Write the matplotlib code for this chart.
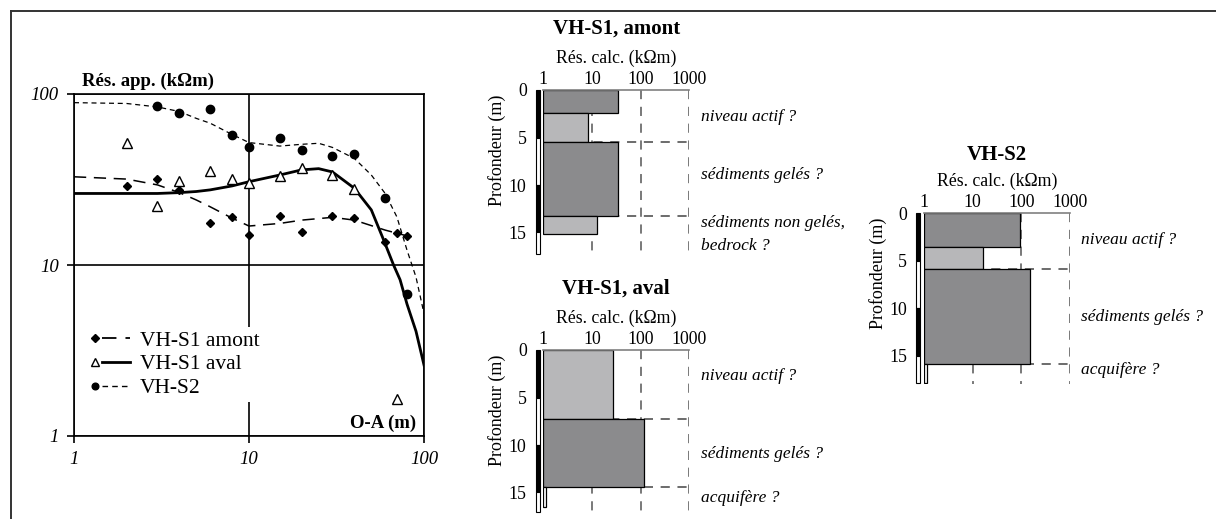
import matplotlib
matplotlib.use("Agg")
import matplotlib.pyplot as plt
from matplotlib.lines import Line2D
from matplotlib.patches import Rectangle
from matplotlib.legend_handler import HandlerBase
from matplotlib.transforms import blended_transform_factory

plt.rcParams['font.family'] = ['Liberation Serif', 'DejaVu Serif']

# ---------------- apparent resistivity sounding curves ----------------
oa_amont = [2, 3, 4, 6, 8, 10, 15, 20, 30, 40, 60, 70, 80]
rho_amont = [29, 31.7, 27.5, 17.5, 19.2, 15, 19.4, 15.6, 19.4, 18.8, 13.7, 15.3, 14.8]
oa_aval = [2, 3, 4, 6, 8, 10, 15, 20, 30, 40, 70]
rho_aval = [51.5, 22.2, 31, 35.5, 31.7, 30, 33.3, 36.7, 33.6, 27.8, 1.64]
oa_s2 = [3, 4, 6, 8, 10, 15, 20, 30, 40, 60, 80]
rho_s2 = [85, 77, 82, 57.6, 49, 55, 47, 43.5, 44.8, 24.8, 6.8]

# model response curves
fit_amont_x = [1, 2, 3, 4, 5, 6, 8, 10, 15, 20, 30, 40, 60, 80, 88]
fit_amont_y = [32.8, 31.8, 29.4, 26.5, 24, 21.9, 18.8, 16.9, 17.5, 18.3, 19, 18.3, 16, 14.8, 14.3]
fit_aval_x = [1, 2, 3, 4, 5, 6, 8, 10, 15, 20, 25, 30, 40, 50, 58, 67, 73, 80, 90, 100]
fit_aval_y = [26.2, 26.2, 26.2, 26.5, 26.9, 27.5, 29, 30.7, 33.6, 36, 36.6, 35, 28.1, 21, 14.5, 10, 8.2, 5.9, 4.1, 2.6]
fit_s2_x = [1, 2, 3, 4, 5, 6, 8, 10, 15, 20, 25, 30, 40, 50, 60, 70, 80, 90, 100]
fit_s2_y = [89, 88, 84, 79, 72, 67.5, 58, 52, 49.6, 50.8, 51.5, 48.7, 42, 33.6, 26.2, 19.1, 12.2, 8.5, 5.2]

legend_labels = ['VH-S1 amont', 'VH-S1 aval', 'VH-S2']

# ---------------- inverted layered models ----------------
amont_top = [0, 2.4, 5.45, 13.25]
amont_bot = [2.4, 5.45, 13.25, 15.2]
amont_res = [33.7, 8.2, 34.7, 12.8]
amont_units = [5.45, 13.25]
amont_notes = [('niveau actif ?', 2.8), ('sédiments gelés ?', 8.95),
               ('sédiments non gelés,', 13.97), ('bedrock ?', 16.4)]

aval_top = [0, 7.26, 14.45]
aval_bot = [7.26, 14.45, 16.5]
aval_res = [26.6, 118.6, 1.13]
aval_units = [7.26, 14.45]
aval_notes = [('niveau actif ?', 2.74), ('sédiments gelés ?', 10.9), ('acquifère ?', 15.6)]

s2_top = [0, 3.5, 5.9, 15.9]
s2_bot = [3.5, 5.9, 15.9, 17.9]
s2_res = [94, 16, 150, 1.17]
s2_units = [5.9, 15.9]
s2_notes = [('niveau actif ?', 2.8), ('sédiments gelés ?', 10.9), ('acquifère ?', 16.5)]

res_ticks = [1, 10, 100, 1000]
depth_ticks = [0, 5, 10, 15]

DARK = '#8b8b8d'
LIGHT = '#b7b7b9'

W, H = 1216, 519
fig = plt.figure(figsize=(W / 100, H / 100), dpi=100)


def axes_px(x0, x1, y_top, y_bot):
    return fig.add_axes([x0 / W, 1 - y_bot / H, (x1 - x0) / W, (y_bot - y_top) / H])


# outer frame (top and left edges)
fig.add_artist(Line2D([11 / W, 11 / W], [0, 1 - 10.5 / H], transform=fig.transFigure,
                      color='#333333', lw=1.4))
fig.add_artist(Line2D([11 / W, 1], [1 - 10.5 / H, 1 - 10.5 / H], transform=fig.transFigure,
                      color='#333333', lw=1.4))

# ---------------- left panel ----------------
ax = axes_px(74, 424, 94, 436)
ax.set_xscale('log')
ax.set_yscale('log')
ax.set_xlim(1, 100)
ax.set_ylim(1, 100)
ax.minorticks_off()
ax.set_xticks([1, 10, 100])
ax.set_xticklabels(['1', '10', '100'])
ax.set_yticks([1, 10, 100])
ax.set_yticklabels(['1', '10', '100'])
ax.tick_params(direction='out', length=5, width=1.2, labelsize=13.5)
ax.tick_params(axis='x', pad=6)
ax.tick_params(axis='y', pad=6)
for lab in ax.get_xticklabels() + ax.get_yticklabels():
    lab.set_fontstyle('italic')
ax.grid(True, which='major', color='black', lw=1.2)
for sp in ax.spines.values():
    sp.set_linewidth(1.2)

dash_amont = (0, (8, 5))
dash_s2 = (0, (4, 3))
ax.plot(fit_amont_x, fit_amont_y, color='black', lw=1.1, ls=dash_amont, zorder=3)
ax.plot(fit_aval_x, fit_aval_y, color='black', lw=2.0, ls='-', zorder=3)
ax.plot(fit_s2_x, fit_s2_y, color='black', lw=0.9, ls=dash_s2, zorder=3)
ax.plot(oa_amont, rho_amont, ls='none', marker='D', ms=4.5, color='black', zorder=4)
ax.plot(oa_aval, rho_aval, ls='none', marker='^', ms=7, mfc='white', mec='black', mew=1.0, zorder=4)
ax.plot(oa_s2, rho_s2, ls='none', marker='o', ms=6, color='black', zorder=4)

ax.text(8 / 350, 1.013, 'Rés. app. (kΩm)', transform=ax.transAxes, fontsize=13.5,
        fontweight='bold', ha='left', va='bottom')
ax.text(0.978, 0.012, 'O-A (m)', transform=ax.transAxes, fontsize=13.5,
        fontweight='bold', ha='right', va='bottom')


class MarkerThenLine(HandlerBase):
    def create_artists(self, legend, orig_handle, xdescent, ydescent, width, height,
                       fontsize, trans):
        y = height / 2 - ydescent
        mk = Line2D([-xdescent + 0.1 * width], [y], ls='none',
                    marker=orig_handle.get_marker(), ms=orig_handle.get_markersize() * 0.8,
                    mfc=orig_handle.get_markerfacecolor(), mec='black', mew=1.0,
                    transform=trans)
        ln = Line2D([-xdescent + 0.28 * width, -xdescent + width], [y, y], transform=trans)
        ln.update_from(orig_handle)
        ln.set_marker('None')
        ln.set_transform(trans)
        return [mk, ln]


handles = [
    Line2D([], [], color='black', lw=1.3, ls=dash_amont, marker='D', ms=4.5, mfc='black'),
    Line2D([], [], color='black', lw=2.0, ls='-', marker='^', ms=7, mfc='white'),
    Line2D([], [], color='black', lw=1.0, ls=dash_s2, marker='o', ms=6, mfc='black'),
]
leg = ax.legend(handles, legend_labels, handler_map={Line2D: MarkerThenLine()},
                loc='upper left', bbox_to_anchor=(0.04, 0.318), fontsize=15.5,
                frameon=True, framealpha=1, facecolor='white', edgecolor='none',
                handlelength=1.8, handletextpad=0.45, labelspacing=0.18, borderpad=0.15,
                borderaxespad=0.0, fancybox=False)
leg.set_zorder(5)


# ---------------- layered-model panels ----------------
def model_panel(x0, x1, y_top, depth_max, title, title_gap, tops, bots, res, colors,
                units, notes, ruler_end):
    pxm = 9.5
    a = axes_px(x0, x1, y_top, y_top + depth_max * pxm)
    a.set_xscale('log')
    a.set_xlim(1, 1000)
    a.set_ylim(depth_max, 0)
    a.minorticks_off()
    for side in ('left', 'right', 'bottom'):
        a.spines[side].set_visible(False)
    a.spines['top'].set_color('#808080')
    a.spines['top'].set_linewidth(1.2)
    a.xaxis.tick_top()
    a.set_xticks(res_ticks)
    a.set_xticklabels([str(t) for t in res_ticks])
    a.set_yticks(depth_ticks)
    a.set_yticklabels([str(t) for t in depth_ticks])
    a.tick_params(axis='x', length=0, pad=1.5, labelsize=12.8)
    a.tick_params(axis='y', length=0, pad=12, labelsize=12.8)
    a.patch.set_alpha(0)

    # reference grid and interpretation boundaries
    for xv in res_ticks[1:]:
        a.plot([xv, xv], [0, depth_max], color='#555555', lw=1.1, ls=(0, (6, 5)), zorder=1)
    for d in units:
        a.plot([1, 1000], [d, d], color='#444444', lw=1.1, ls=(0, (6, 5)), zorder=1)

    for t, b, r, c in zip(tops, bots, res, colors):
        a.barh(t, r - 1, left=1, height=b - t, align='edge', color=c,
               edgecolor='black', lw=0.9, zorder=2)

    # depth ruler
    tr = blended_transform_factory(a.transAxes, a.transData)
    seg = [(0, 5, 'black'), (5, 10, 'white'), (10, 15, 'black'), (15, ruler_end, 'white')]
    for s0, s1, c in seg:
        a.add_patch(Rectangle((-0.052, s0), 0.027, s1 - s0, transform=tr, facecolor=c,
                              edgecolor='black', lw=0.8, clip_on=False, zorder=3))

    for text, d in notes:
        a.text(1.078, d, text, transform=tr, fontsize=12.5, fontstyle='italic',
               ha='left', va='center')

    a.text(-0.315, 6.3, 'Profondeur (m)', transform=tr, rotation=90, fontsize=13,
           ha='center', va='center')
    cx = (x0 + x1) / 2 / W
    fig.text(cx, 1 - (y_top - 32) / H, 'Rés. calc. (kΩm)', fontsize=12.8,
             ha='center', va='center')
    fig.text(cx, 1 - (y_top - title_gap) / H, title, fontsize=15, fontweight='bold',
             ha='center', va='center')
    return a


model_panel(543.3, 689.3, 90, 17.4, 'VH-S1, amont', 61, amont_top, amont_bot, amont_res,
            [DARK, LIGHT, DARK, LIGHT], amont_units, amont_notes, 17.3)
model_panel(543.3, 689.3, 350, 17.2, 'VH-S1, aval', 61, aval_top, aval_bot, aval_res,
            [LIGHT, DARK, 'white'], aval_units, aval_notes, 17.1)
model_panel(924, 1070, 213.3, 18.0, 'VH-S2', 58, s2_top, s2_bot, s2_res,
            [DARK, LIGHT, DARK, 'white'], s2_units, s2_notes, 17.9)

fig.savefig('out.png', dpi=100)
